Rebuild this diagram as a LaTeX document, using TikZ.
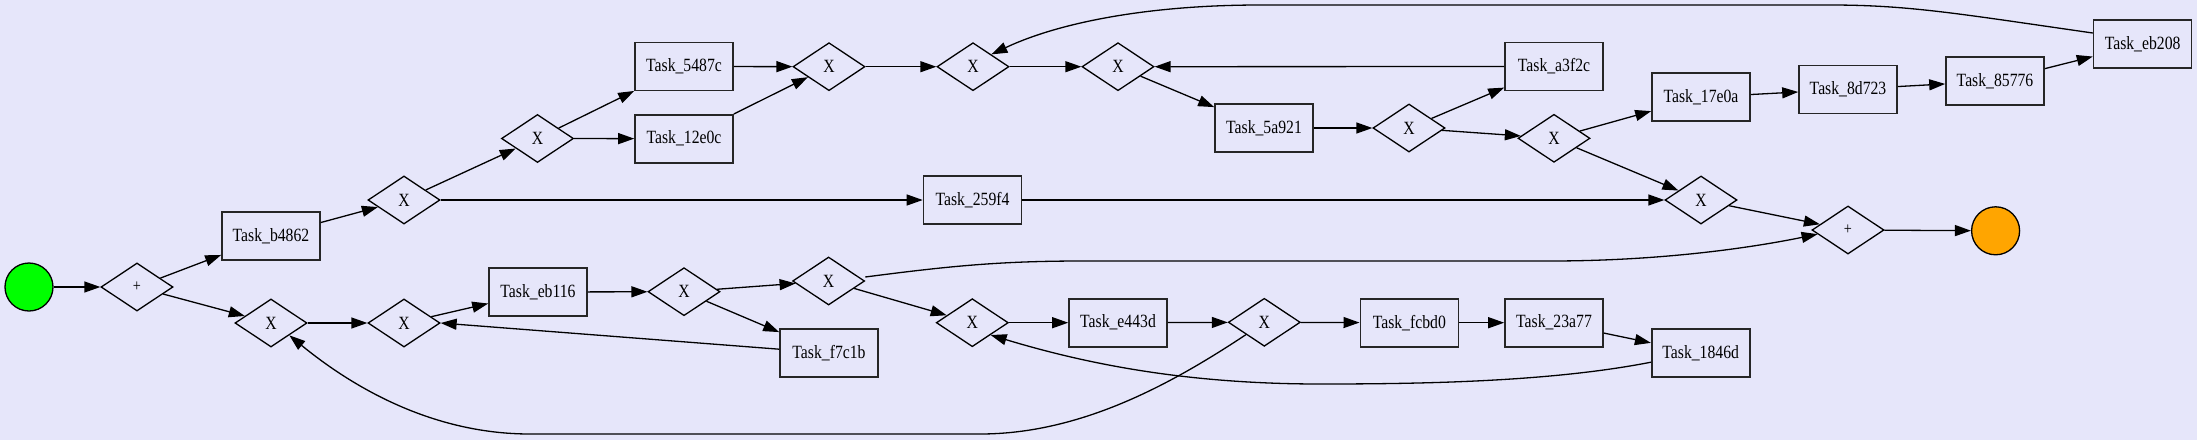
\documentclass[tikz,border=0pt]{standalone}
\usepackage{fontspec}
\setmainfont{Liberation Serif}[FakeStretch=0.84]
\usetikzlibrary{shapes.geometric,arrows.meta,calc}
\definecolor{bgcol}{HTML}{E6E6FA}
\definecolor{startcol}{HTML}{00FF00}
\definecolor{endcol}{HTML}{FFA500}
\begin{document}
\begin{tikzpicture}[x=0.5pt,y=-0.5pt,
  every node/.style={font=\fontsize{9.35pt}{11pt}\selectfont},
  task/.style={draw=black!85,line width=0.8pt,rectangle,minimum width=49pt,minimum height=24pt,inner sep=0pt},
  gw/.style={draw=black,line width=0.65pt,diamond,minimum width=36pt,minimum height=24pt,inner sep=0pt,aspect=1.5},
  plusgw/.style={gw,font=\fontsize{8.5pt}{9pt}\selectfont},
  startev/.style={circle,draw=black,line width=0.65pt,fill=startcol,minimum size=24pt,inner sep=0pt},
  endev/.style={circle,draw=black,line width=0.65pt,fill=endcol,minimum size=24pt,inner sep=0pt},
  arr/.style={draw=black,line width=0.65pt,-{Triangle[length=8pt,width=5.5pt]}}
]
\useasboundingbox (0,0) rectangle (2197,440);
\fill[bgcol] (0,0) rectangle (2197,440);

% nodes
\node[startev] (start) at (29,287) {};
\node[plusgw] (p1) at (137,287) {+};
\node[task] (b4862) at (271,236) {Task\_b4862};
\node[gw] (g2) at (404,200) {X};
\node[gw] (g3) at (271,323) {X};
\node[gw] (g4) at (404,323) {X};
\node[gw] (g5) at (537.5,138.5) {X};
\node[task] (t5487c) at (684,66.5) {Task\_5487c};
\node[task] (t12e0c) at (684,138.7) {Task\_12e0c};
\node[gw] (g6) at (829,66.7) {X};
\node[gw] (g7) at (973,66.7) {X};
\node[gw] (g8) at (1118,66.7) {X};
\node[task] (a3f2c) at (1554,66.5) {Task\_a3f2c};
\node[task] (t5a921) at (1264,128) {Task\_5a921};
\node[gw] (g9) at (1409,128) {X};
\node[gw] (g10) at (1554,138.3) {X};
\node[task] (t17e0a) at (1701,97.2) {Task\_17e0a};
\node[task] (t8d723) at (1848,89.3) {Task\_8d723};
\node[task] (t85776) at (1995,81.2) {Task\_85776};
\node[task] (teb208) at (2142.6,44) {Task\_eb208};
\node[task] (t259f4) at (972.5,200) {Task\_259f4};
\node[gw] (g11) at (1701,200) {X};
\node[plusgw] (p2) at (1848,230) {+};
\node[endev] (end) at (1995.6,230.8) {};
\node[task] (teb116) at (538,292) {Task\_eb116};
\node[gw] (g13) at (684,291.7) {X};
\node[gw] (g14) at (828.6,281) {X};
\node[task] (tf7c1b) at (829,353.2) {Task\_f7c1b};
\node[gw] (g15) at (972.3,322.7) {X};
\node[task] (te443d) at (1118,322.7) {Task\_e443d};
\node[gw] (g16) at (1264.3,322.3) {X};
\node[task] (tfcbd0) at (1409.3,322.7) {Task\_fcbd0};
\node[task] (t23a77) at (1554,322.7) {Task\_23a77};
\node[task] (t1846d) at (1700.7,353.2) {Task\_1846d};

% straight edges
\draw[arr] (start) -- (p1);
\draw[arr] (p1) -- (b4862);
\draw[arr] (p1) -- (g3);
\draw[arr] (b4862) -- (g2);
\draw[arr] (g2) -- (g5);
\draw[arr] (g2) -- (t259f4);
\draw[arr] (g5) -- (t5487c);
\draw[arr] (g5) -- (t12e0c);
\draw[arr] (t5487c) -- (g6);
\draw[arr] (t12e0c) -- (g6);
\draw[arr] (g6) -- (g7);
\draw[arr] (g7) -- (g8);
\draw[arr] (a3f2c) -- (g8);
\draw[arr] (g8) -- (t5a921);
\draw[arr] (t5a921) -- (g9);
\draw[arr] (g9) -- (a3f2c);
\draw[arr] (g9) -- (g10);
\draw[arr] (g10) -- (t17e0a);
\draw[arr] (g10) -- (g11);
\draw[arr] (t17e0a) -- (t8d723);
\draw[arr] (t8d723) -- (t85776);
\draw[arr] (t85776) -- (teb208);
\draw[arr] (t259f4) -- (g11);
\draw[arr] (g11) -- (p2);
\draw[arr] (p2) -- (end);
\draw[arr] (g3) -- (g4);
\draw[arr] (g4) -- (teb116);
\draw[arr] ([yshift=2pt]tf7c1b.west) -- (g4.east);
\draw[arr] (teb116) -- (g13);
\draw[arr] (g13) -- (g14);
\draw[arr] (g13) -- (tf7c1b);
\draw[arr] (g14) -- (g15);
\draw[arr] (g15) -- (te443d);
\draw[arr] (te443d) -- (g16);
\draw[arr] (g16) -- (tfcbd0);
\draw[arr] (tfcbd0) -- (t23a77);
\draw[arr] (t23a77) -- (t1846d);

% curved edges
\draw[arr] ([yshift=5.5pt]teb208.west) .. controls (1960,14) and (1910,5) .. (1830,5)
  -- (1260,5) .. controls (1150,5) and (1060,22) .. (g7.north east);
\draw[arr] ([yshift=2pt]g14.east) .. controls (950,266) and (1000,261) .. (1083,261)
  -- (1550,261) .. controls (1660,261) and (1750,248) .. ($(p2.west)!0.17!(p2.south)$);
\draw[arr] (g16.south west) .. controls (1170,385) and (1080,434) .. (980,434)
  -- (530,434) .. controls (430,434) and (350,385) .. (g3.south east);
\draw[arr] ([yshift=-4.5pt]t1846d.west) .. controls (1550,382) and (1420,384) .. (1320,384)
  .. controls (1180,384) and (1080,362) .. (g15.south east);
\end{tikzpicture}
\end{document}
